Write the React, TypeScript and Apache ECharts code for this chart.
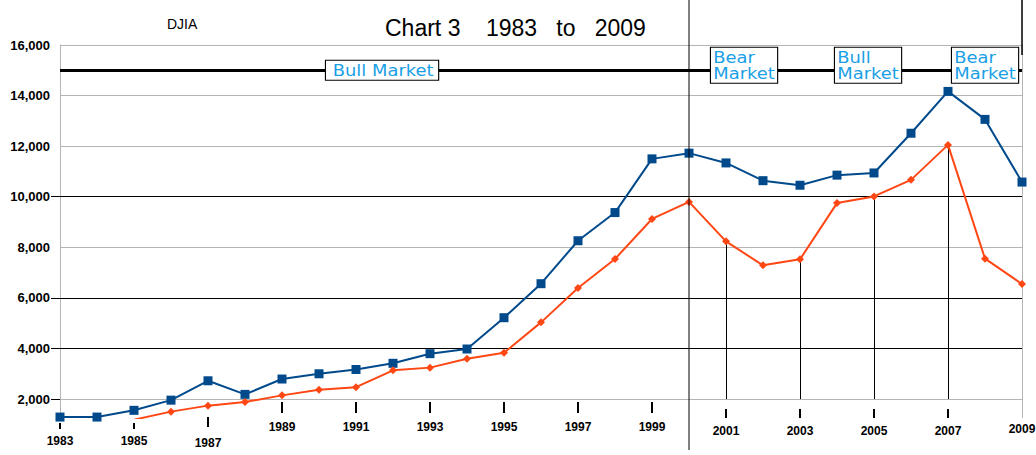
import React, { useEffect, useRef } from 'react';
import * as echarts from 'echarts';

// ---- data ----
const years = [
  '1983', '1984', '1985', '1986', '1987', '1988', '1989', '1990', '1991',
  '1992', '1993', '1994', '1995', '1996', '1997', '1998', '1999', '2000',
  '2001', '2002', '2003', '2004', '2005', '2006', '2007', '2008', '2009',
];
// annual highs (blue, squares)
const highs = [
  1287, 1287, 1553, 1956, 2722, 2184, 2791, 2999, 3169,
  3413, 3794, 3978, 5216, 6561, 8259, 9374, 11497, 11723,
  11337, 10635, 10454, 10854, 10940, 12511, 14165, 13058, 10580,
];
// annual lows (red, diamonds)
const lows = [
  null, null, 1184, 1502, 1739, 1879, 2145, 2365, 2470,
  3136, 3242, 3593, 3832, 5032, 6391, 7539, 9121, 9796,
  8236, 7286, 7524, 9749, 10012, 10667, 12050, 7552, 6547,
];
const yTickValues = [2000, 4000, 6000, 8000, 10000, 12000, 14000, 16000];
const darkGridValues = [4000, 6000, 10000];
const yTickMarks = [2000, 4000, 6000, 10000];
const dropLineYears = ['2001', '2003', '2005', '2007'];
const phaseLineValue = 15000;
const splitYear = '2000';
const phaseLabels = [
  { text: 'Bull Market', at: 1991.7 },
  { text: 'Bear\nMarket', at: 2001.5 },
  { text: 'Bull\nMarket', at: 2004.85 },
  { text: 'Bear\nMarket', at: 2008.0 },
];

// ---- layout of the (staggered) year labels ----
const labelRows = [
  { years: ['1983', '1985'], offset: 5, tick: 6, margin: 12 },
  { years: ['1987'], offset: -1, tick: 10, margin: 20 },
  { years: ['1989', '1991', '1993', '1995', '1997', '1999'], offset: -16, tick: 11, margin: 19 },
  { years: ['2001', '2003', '2005', '2007'], offset: -9, tick: 9, margin: 16 },
  { years: ['2009'], offset: -9, tick: 0, margin: 14 },
];

const FONT = 'Arial, "Liberation Sans", sans-serif';
const BOX_FONT = '16px "DejaVu Sans", sans-serif';
const BOX_SCALE_X = 1.12;
const BLUE = '#004a8c';
const RED = '#ff4714';
const GRAY = '#b4b4b4';
const BOX_TEXT = '#1a9fe6';

export default function App() {
  const ref = useRef<HTMLDivElement>(null);

  useEffect(() => {
    if (!ref.current) return;
    const chart = echarts.init(ref.current, null, { renderer: 'svg' });

    const xAxis = labelRows.map((row) => ({
      type: 'category',
      data: years,
      boundaryGap: false,
      position: 'bottom',
      offset: row.offset,
      gridIndex: 0,
      axisLine: { show: false, onZero: false },
      axisTick: {
        show: row.tick > 0,
        length: row.tick,
        interval: (_i: number, v: string) => row.years.includes(v),
        lineStyle: { color: '#000', width: 2 },
      },
      axisLabel: {
        interval: (_i: number, v: string) => row.years.includes(v),
        margin: row.margin,
        color: '#000',
        fontFamily: FONT,
        fontWeight: 'bold',
        fontSize: 12,
      },
      splitLine: { show: false },
    }));

    const gridLines: any[] = yTickValues.map((v) => ({
      yAxis: v,
      lineStyle: { color: darkGridValues.includes(v) ? '#000' : GRAY, width: 1, type: 'solid' },
    }));
    gridLines.push({ xAxis: years[years.length - 1], lineStyle: { color: GRAY, width: 1, type: 'solid' } });
    gridLines.push({ yAxis: phaseLineValue, lineStyle: { color: '#000', width: 3, type: 'solid' } });

    const dropLines = dropLineYears.map((y) => [
      { coord: [y, lows[years.indexOf(y)]] },
      { coord: [y, yTickValues[0]] },
    ]);

    const option: any = {
      animation: false,
      backgroundColor: '#fff',
      title: [
        {
          text: 'Chart 3    1983   to   2009',
          left: 385,
          top: 16,
          padding: 0,
          textStyle: { fontFamily: FONT, fontSize: 23, fontWeight: 'normal', color: '#000' },
        },
        {
          text: 'DJIA',
          left: 167,
          top: 17,
          padding: 0,
          textStyle: { fontFamily: FONT, fontSize: 14, fontWeight: 'normal', color: '#000' },
        },
      ],
      grid: { left: 60, right: 14, top: 45, bottom: 37, containLabel: false, outerBoundsMode: 'none' },
      xAxis,
      yAxis: {
        type: 'value',
        min: 1250,
        max: 16000,
        axisLine: { show: true, lineStyle: { color: GRAY, width: 1 } },
        axisTick: { show: true, customValues: yTickMarks, length: 9, lineStyle: { color: '#000', width: 1 } },
        axisLabel: {
          customValues: yTickValues,
          formatter: (v: number) => Number(v).toLocaleString('en-US'),
          margin: 10,
          color: '#000',
          fontFamily: FONT,
          fontWeight: 'bold',
          fontSize: 13,
        },
        splitLine: { show: false },
      },
      series: [
        {
          type: 'line',
          name: 'High',
          data: highs,
          xAxisIndex: 0,
          yAxisIndex: 0,
          z: 3,
          symbol: 'rect',
          symbolSize: 9,
          lineStyle: { color: BLUE, width: 2 },
          itemStyle: { color: BLUE },
          markLine: {
            silent: true,
            z: 1,
            symbol: ['none', 'none'],
            label: { show: false },
            emphasis: { disabled: true },
            data: gridLines,
          },
        },
        {
          type: 'line',
          name: 'Low',
          data: lows,
          xAxisIndex: 0,
          yAxisIndex: 0,
          z: 3,
          symbol: 'diamond',
          symbolSize: 8,
          lineStyle: { color: RED, width: 2 },
          itemStyle: { color: RED },
          markLine: {
            silent: true,
            z: 1,
            symbol: ['none', 'none'],
            label: { show: false },
            emphasis: { disabled: true },
            lineStyle: { color: '#000', width: 1, type: 'solid' },
            data: dropLines,
          },
        },
      ],
    };
    chart.setOption(option);

    // annotations anchored to the data scales
    const toPx = (i: number, v: number) =>
      chart.convertToPixel({ xAxisIndex: 0, yAxisIndex: 0 } as any, [i, v]) as number[];
    const p0 = toPx(0, phaseLineValue);
    const p1 = toPx(1, phaseLineValue);
    const step = p1[0] - p0[0];
    const lineY = p0[1];
    const xSplit = toPx(years.indexOf(splitYear), phaseLineValue)[0];
    const xEnd = toPx(years.length - 1, phaseLineValue)[0];
    const topY = toPx(0, 16000)[1];

    const canvas = document.createElement('canvas');
    const ctx = canvas.getContext('2d')!;
    ctx.font = BOX_FONT;

    const boxes = phaseLabels.map((p) => {
      const lines = p.text.split('\n');
      const single = lines.length === 1;
      const pad = single ? [2, 4, 1, 6] : [2, 2, 1, 2];
      const tw = Math.max(...lines.map((l) => ctx.measureText(l).width));
      const w = (tw + pad[1] + pad[3]) * BOX_SCALE_X;
      const cx = p0[0] + (p.at - Number(years[0])) * step;
      return {
        type: 'text',
        x: Math.round(cx - w / 2),
        y: single ? lineY : lineY - 5,
        scaleX: BOX_SCALE_X,
        z: 20,
        silent: true,
        style: {
          text: p.text,
          font: BOX_FONT,
          fill: BOX_TEXT,
          align: 'left',
          verticalAlign: 'middle',
          backgroundColor: '#fff',
          borderColor: '#000',
          borderWidth: 1,
          padding: pad,
          lineHeight: 16,
        },
      };
    });

    chart.setOption({
      graphic: [
        {
          type: 'line',
          z: 15,
          silent: true,
          shape: { x1: xSplit, y1: 0, x2: xSplit, y2: 450 },
          style: { stroke: '#000', lineWidth: 1 },
        },
        {
          type: 'line',
          z: 15,
          silent: true,
          shape: { x1: xEnd, y1: 0, x2: xEnd, y2: topY + 10 },
          style: { stroke: '#000', lineWidth: 1.5 },
        },
        ...boxes,
      ],
    });

    return () => chart.dispose();
  }, []);

  return (
    <div
      ref={ref}
      style={{ position: 'absolute', left: 0, top: 0, width: 1036, height: 455, background: '#fff' }}
    />
  );
}
